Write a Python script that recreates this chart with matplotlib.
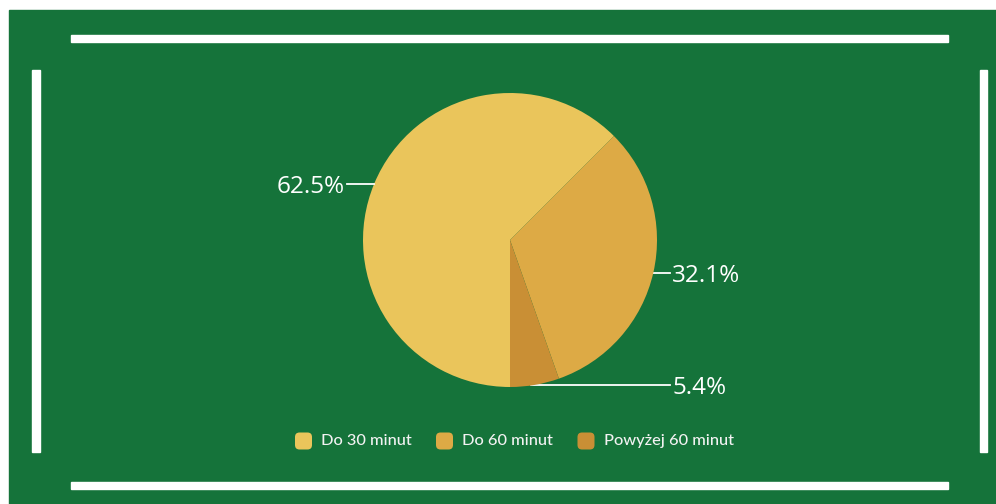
import numpy as np
import matplotlib.pyplot as plt
from matplotlib.patches import Rectangle, FancyBboxPatch

# data
categories = ["Do 30 minut", "Do 60 minut", "Powyżej 60 minut"]
values = [62.5, 32.1, 5.4]
labels = ["62.5%", "32.1%", "5.4%"]
colors = ["#EAC55B", "#DDAA45", "#C98F35"]

W, H = 996, 504
GREEN = "#15733A"

fig = plt.figure(figsize=(W / 100, H / 100), dpi=100, facecolor="white")
ax = fig.add_axes([0, 0, 1, 1])

# pie, in pixel coordinates (y up)
cx, cy, r = 510, 264, 147
wedges, _ = ax.pie(values, colors=colors, startangle=-90, counterclock=False,
                   center=(cx, cy), radius=r, frame=True,
                   wedgeprops=dict(linewidth=0))
for w in wedges:
    w.set_zorder(3)

ax.set_xlim(0, W)
ax.set_ylim(0, H)
ax.set_aspect("auto")
ax.axis("off")

# background panel and white frame strokes
ax.add_patch(Rectangle((9, 0), W - 9, H - 10, color=GREEN, zorder=0))
ax.add_patch(Rectangle((71, 462), 877, 7, color="white", zorder=1))
ax.add_patch(Rectangle((71, 15), 877, 7, color="white", zorder=1))
ax.add_patch(Rectangle((32, 52), 8, 382, color="white", zorder=1))
ax.add_patch(Rectangle((980, 52), 7, 382, color="white", zorder=1))

# labels with horizontal leader lines from wedge midpoints
for w, lab in zip(wedges, labels):
    mid = np.deg2rad((w.theta1 + w.theta2) / 2)
    ex = cx + r * np.cos(mid)
    ey = cy + r * np.sin(mid)
    if ex < cx:
        ax.plot([ex, 347], [ey, ey], color="white", lw=1.3, zorder=4)
        ax.text(345, ey - 3, lab, ha="right", va="center", color="white",
                fontsize=17.5, family="Open Sans", zorder=5)
    else:
        ax.plot([ex - 4, 670], [ey, ey], color="white", lw=1.3, zorder=2)
        ax.text(672, ey - 3, lab, ha="left", va="center", color="white",
                fontsize=17.5, family="Open Sans", zorder=5)

# legend
leg_x = [303.5, 444.5, 586]
leg_y = 63
for x, c, name in zip(leg_x, colors, categories):
    ax.add_patch(FancyBboxPatch((x - 6.5, leg_y - 6.5), 13, 13,
                                boxstyle="round,pad=2,rounding_size=4.5",
                                facecolor=c, edgecolor="none", zorder=5))
    ax.text(x + 17.5, leg_y, name, ha="left", va="center", color="#F2F2F2",
            fontsize=11.8, family="Lato", fontweight="medium", zorder=5)

fig.savefig("out.png", dpi=100, facecolor="white")
